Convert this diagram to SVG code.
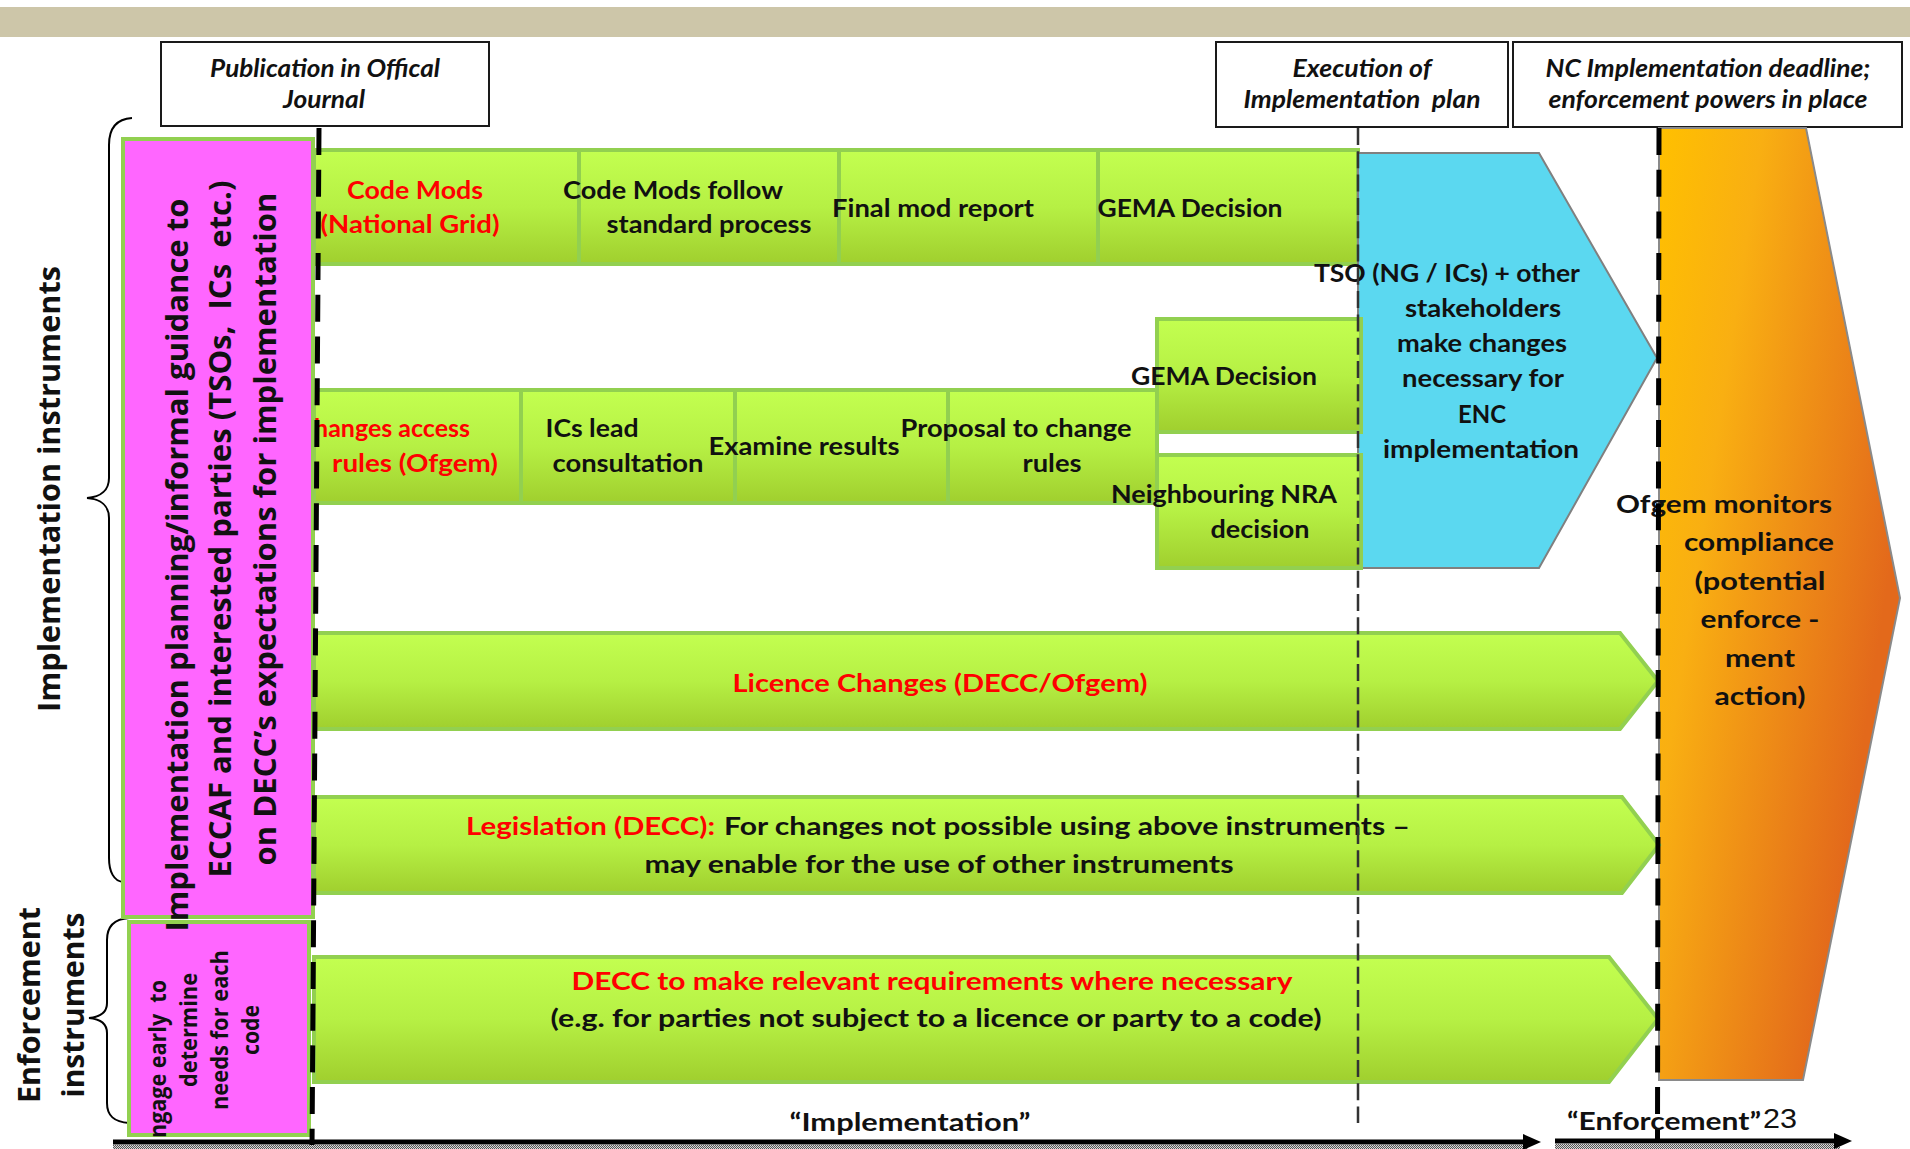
<svg xmlns="http://www.w3.org/2000/svg" width="1910" height="1149" viewBox="0 0 1910 1149">
<defs>
<linearGradient id="gGreen" x1="0" y1="0" x2="0" y2="1">
<stop offset="0" stop-color="#C3FF50"/>
<stop offset="0.5" stop-color="#B6F044"/>
<stop offset="1" stop-color="#A0CF2E"/>
</linearGradient>
<linearGradient id="gOrange" gradientUnits="userSpaceOnUse" x1="1659" y1="128" x2="1950" y2="172">
<stop offset="0" stop-color="#FFC000"/>
<stop offset="0.35" stop-color="#F9AF12"/>
<stop offset="1" stop-color="#E3691B"/>
</linearGradient>
<pattern id="hatch" width="2" height="2" patternUnits="userSpaceOnUse">
<rect width="2" height="2" fill="#d8d8d8"/>
<rect width="1" height="1" fill="#555"/>
<rect x="1" y="1" width="1" height="1" fill="#555"/>
</pattern>
<marker id="head" markerUnits="userSpaceOnUse" markerWidth="19" markerHeight="18" refX="8" refY="9" orient="auto">
<path d="M0,1 L18,9 L0,17 z" fill="#000"/>
</marker>
<style>
.cal{font-family:Lato,'Liberation Sans',sans-serif;font-weight:bold;font-size:25px;fill:#111}
.hdr{font-style:italic;font-size:24px}
.red{fill:#FF0000}
.wide{font-family:'Open Sans','DejaVu Sans',sans-serif;font-weight:bold;fill:#111}
.cell{fill:url(#gGreen);stroke:#92D050;stroke-width:4}
.box{fill:#fff;stroke:#1a1a1a;stroke-width:2}
.pink{fill:#FF66FF;stroke:#92D050;stroke-width:4}
.brace{fill:none;stroke:#000;stroke-width:2}
.thick{stroke:#000;stroke-width:5;stroke-dasharray:27 14.7;fill:none}
.thin{stroke:#333;stroke-width:2.5;stroke-dasharray:17 6.3;fill:none}
.axis{stroke:#000;stroke-width:5;fill:none}
</style>
</defs>
<rect width="1910" height="1149" fill="#fff"/>
<rect id="topband" x="0" y="7" width="1910" height="30" fill="#CDC6A9"/>

<g id="hdr-publication">
<rect class="box" x="161" y="42" width="328" height="84"/>
<text class="cal hdr" x="325" y="77" text-anchor="middle" textLength="230" lengthAdjust="spacingAndGlyphs">Publication in Offical</text>
<text class="cal hdr" x="324" y="108" text-anchor="middle" textLength="82" lengthAdjust="spacingAndGlyphs">Journal</text>
</g>
<g id="hdr-execution">
<rect class="box" x="1216" y="42" width="292" height="85"/>
<text class="cal hdr" x="1362" y="77" text-anchor="middle" textLength="139" lengthAdjust="spacingAndGlyphs">Execution of</text>
<text class="cal hdr" x="1362" y="108" text-anchor="middle" textLength="237" lengthAdjust="spacingAndGlyphs" xml:space="preserve">Implementation  plan</text>
</g>
<g id="hdr-deadline">
<rect class="box" x="1513" y="42" width="389" height="85"/>
<text class="cal hdr" x="1708" y="77" text-anchor="middle" textLength="325" lengthAdjust="spacingAndGlyphs">NC Implementation deadline;</text>
<text class="cal hdr" x="1708" y="108" text-anchor="middle" textLength="319" lengthAdjust="spacingAndGlyphs">enforcement powers in place</text>
</g>

<g id="label-implementation-instruments">
<path class="brace" d="M132,118 C116,119 109,128 109,145 L109,478 C109,490 101,497 87,498 C101,499 109,506 109,518 L109,858 C109,872 114,881 123,882"/>
<text class="wide" font-size="31" transform="translate(60,489) rotate(-90)" text-anchor="middle" textLength="446" lengthAdjust="spacingAndGlyphs">Implementation instruments</text>
</g>
<g id="label-enforcement-instruments">
<path class="brace" d="M129,918 C114,919 107,926 107,940 L107,1003 C107,1012 100,1017 89,1018 C100,1019 107,1024 107,1033 L107,1103 C107,1116 114,1122 129,1123"/>
<text class="wide" font-size="31" transform="translate(40,1005) rotate(-90)" text-anchor="middle" textLength="196" lengthAdjust="spacingAndGlyphs">Enforcement</text>
<text class="wide" font-size="31" transform="translate(84,1005) rotate(-90)" text-anchor="middle" textLength="185" lengthAdjust="spacingAndGlyphs">instruments</text>
</g>

<g id="row-code-mods">
<rect class="cell" x="314" y="150" width="265" height="114"/>
<rect class="cell" x="579" y="150" width="260" height="114"/>
<rect class="cell" x="839" y="150" width="259" height="114"/>
<rect class="cell" x="1098" y="150" width="260" height="114"/>
<text class="cal red" x="415" y="199" text-anchor="middle" textLength="136" lengthAdjust="spacingAndGlyphs">Code Mods</text>
<text class="cal red" x="410" y="233" text-anchor="middle" textLength="179" lengthAdjust="spacingAndGlyphs">(National Grid)</text>
<text class="cal" x="673" y="199" text-anchor="middle" textLength="220" lengthAdjust="spacingAndGlyphs">Code Mods follow</text>
<text class="cal" x="709" y="233" text-anchor="middle" textLength="205" lengthAdjust="spacingAndGlyphs">standard process</text>
<text class="cal" x="933" y="217" text-anchor="middle" textLength="202" lengthAdjust="spacingAndGlyphs">Final mod report</text>
<text class="cal" x="1190" y="217" text-anchor="middle" textLength="185" lengthAdjust="spacingAndGlyphs">GEMA Decision</text>
</g>

<g id="row-access-rules">
<rect class="cell" x="314" y="390" width="207" height="113"/>
<rect class="cell" x="521" y="390" width="214" height="113"/>
<rect class="cell" x="735" y="390" width="213" height="113"/>
<rect class="cell" x="948" y="390" width="209" height="113"/>
<text class="cal red" x="470" y="437" text-anchor="end">Changes access</text>
<text class="cal red" x="415" y="472" text-anchor="middle" textLength="166" lengthAdjust="spacingAndGlyphs">rules (Ofgem)</text>
<text class="cal" x="592" y="437" text-anchor="middle" textLength="93" lengthAdjust="spacingAndGlyphs">ICs lead</text>
<text class="cal" x="628" y="472" text-anchor="middle" textLength="151" lengthAdjust="spacingAndGlyphs">consultation</text>
<text class="cal" x="804" y="455" text-anchor="middle" textLength="191" lengthAdjust="spacingAndGlyphs">Examine results</text>
<text class="cal" x="1016" y="437" text-anchor="middle" textLength="231" lengthAdjust="spacingAndGlyphs">Proposal to change</text>
<text class="cal" x="1052" y="472" text-anchor="middle" textLength="59" lengthAdjust="spacingAndGlyphs">rules</text>
</g>

<g id="tso-changes">
<polygon points="1358,153 1539,153 1657,358 1539,568 1358,568" fill="#5BD8F0" stroke="#808080" stroke-width="2"/>
<text class="cal" x="1447" y="282" text-anchor="middle" textLength="266" lengthAdjust="spacingAndGlyphs">TSO (NG / ICs) + other</text>
<text class="cal" x="1483" y="317" text-anchor="middle" textLength="156" lengthAdjust="spacingAndGlyphs">stakeholders</text>
<text class="cal" x="1482" y="352" text-anchor="middle" textLength="170" lengthAdjust="spacingAndGlyphs">make changes</text>
<text class="cal" x="1483" y="387" text-anchor="middle" textLength="162" lengthAdjust="spacingAndGlyphs">necessary for</text>
<text class="cal" x="1482" y="423" text-anchor="middle" textLength="48" lengthAdjust="spacingAndGlyphs">ENC</text>
<text class="cal" x="1481" y="458" text-anchor="middle" textLength="196" lengthAdjust="spacingAndGlyphs">implementation</text>
</g>

<g id="gema-decision-2">
<rect class="cell" x="1157" y="319" width="204" height="113"/>
<text class="cal" x="1224" y="385" text-anchor="middle" textLength="186" lengthAdjust="spacingAndGlyphs">GEMA Decision</text>
</g>
<g id="neighbouring-nra">
<rect class="cell" x="1157" y="455" width="204" height="113"/>
<text class="cal" x="1224" y="503" text-anchor="middle" textLength="226" lengthAdjust="spacingAndGlyphs">Neighbouring NRA</text>
<text class="cal" x="1260" y="538" text-anchor="middle" textLength="99" lengthAdjust="spacingAndGlyphs">decision</text>
</g>

<g id="ofgem-monitors">
<polygon points="1659,128 1806,128 1900,598 1803,1080 1659,1080" fill="url(#gOrange)" stroke="#8a8a8a" stroke-width="2"/>
<text class="cal" font-size="27" x="1724" y="513" text-anchor="middle" textLength="216" lengthAdjust="spacingAndGlyphs">Ofgem monitors</text>
<text class="cal" font-size="27" x="1759" y="551" text-anchor="middle" textLength="150" lengthAdjust="spacingAndGlyphs">compliance</text>
<text class="cal" font-size="27" x="1760" y="590" text-anchor="middle" textLength="131" lengthAdjust="spacingAndGlyphs">(potential</text>
<text class="cal" font-size="27" x="1760" y="628" text-anchor="middle" textLength="119" lengthAdjust="spacingAndGlyphs">enforce -</text>
<text class="cal" font-size="27" x="1760" y="667" text-anchor="middle" textLength="70" lengthAdjust="spacingAndGlyphs">ment</text>
<text class="cal" font-size="27" x="1760" y="705" text-anchor="middle" textLength="91" lengthAdjust="spacingAndGlyphs">action)</text>
</g>

<g id="licence-changes">
<polygon class="cell" points="314,633 1620,633 1658,681 1620,729 314,729"/>
<text class="cal red" x="940" y="692" text-anchor="middle" textLength="415" lengthAdjust="spacingAndGlyphs">Licence Changes (DECC/Ofgem)</text>
</g>
<g id="legislation">
<polygon class="cell" points="314,797 1622,797 1659,845 1622,893 314,893"/>
<text class="cal red" x="466" y="835" textLength="249" lengthAdjust="spacingAndGlyphs">Legislation (DECC):</text>
<text class="cal" x="724" y="835" textLength="686" lengthAdjust="spacingAndGlyphs">For changes not possible using above instruments –</text>
<text class="cal" x="939" y="873" text-anchor="middle" textLength="589" lengthAdjust="spacingAndGlyphs">may enable for the use of other instruments</text>
</g>
<g id="decc-requirements">
<polygon class="cell" points="314,957 1609,957 1658,1019 1609,1082 314,1082"/>
<text class="cal red" x="932" y="990" text-anchor="middle" textLength="721" lengthAdjust="spacingAndGlyphs">DECC to make relevant requirements where necessary</text>
<text class="cal" x="936" y="1027" text-anchor="middle" textLength="771" lengthAdjust="spacingAndGlyphs">(e.g. for parties not subject to a licence or party to a code)</text>
</g>

<g id="engage-early">
<rect class="pink" x="129" y="922" width="180" height="213"/>
<text class="wide" font-size="23" transform="translate(166,980) rotate(-90)" text-anchor="end" textLength="158" lengthAdjust="spacingAndGlyphs" xml:space="preserve">ngage early  to</text>
<text class="wide" font-size="23" transform="translate(197,1030) rotate(-90)" text-anchor="middle" textLength="114" lengthAdjust="spacingAndGlyphs">determine</text>
<text class="wide" font-size="23" transform="translate(228,1030) rotate(-90)" text-anchor="middle" textLength="160" lengthAdjust="spacingAndGlyphs">needs for each</text>
<text class="wide" font-size="23" transform="translate(259,1030) rotate(-90)" text-anchor="middle" textLength="50" lengthAdjust="spacingAndGlyphs">code</text>
</g>
<g id="implementation-planning">
<rect class="pink" x="123" y="139" width="190" height="778"/>
<text class="wide" font-size="30" transform="translate(188,565) rotate(-90)" text-anchor="middle" textLength="733" lengthAdjust="spacingAndGlyphs">Implementation planning/informal guidance to</text>
<text class="wide" font-size="30" transform="translate(231,529) rotate(-90)" text-anchor="middle" textLength="697" lengthAdjust="spacingAndGlyphs" xml:space="preserve">ECCAF and interested parties (TSOs,  ICs  etc.)</text>
<text class="wide" font-size="30" transform="translate(276,529) rotate(-90)" text-anchor="middle" textLength="673" lengthAdjust="spacingAndGlyphs">on DECC’s expectations for implementation</text>
</g>

<g id="connectors">
<line class="thin" x1="1358" y1="128" x2="1358" y2="1123"/>
<line class="thick" x1="319" y1="128" x2="312" y2="1149"/>
<line class="thick" x1="1659" y1="128" x2="1657.5" y2="1140"/>
<rect x="113" y="1145" width="1415" height="4" fill="url(#hatch)"/>
<rect x="1555" y="1144" width="285" height="5" fill="url(#hatch)"/>
<line class="axis" x1="113" y1="1142" x2="1531" y2="1142" marker-end="url(#head)"/>
<line class="axis" x1="1555" y1="1141" x2="1842" y2="1141" marker-end="url(#head)"/>
</g>

<g id="axis-labels">
<text class="cal" font-size="26" x="910" y="1131" text-anchor="middle" textLength="241" lengthAdjust="spacingAndGlyphs">“Implementation”</text>
<text class="cal" font-size="26" x="1567" y="1130" textLength="194" lengthAdjust="spacingAndGlyphs">“Enforcement”</text>
<text x="1763" y="1128" font-family="'Liberation Sans',Arial,sans-serif" font-size="27" fill="#111" textLength="34" lengthAdjust="spacingAndGlyphs">23</text>
</g>
</svg>
